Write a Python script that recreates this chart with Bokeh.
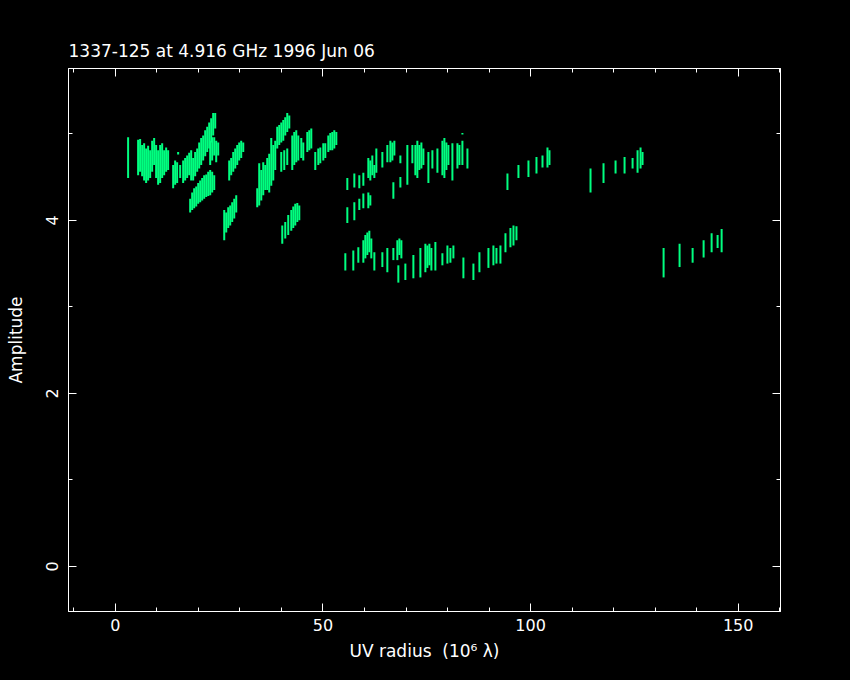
from bokeh.plotting import figure
from bokeh.models import Range1d, LinearAxis, FixedTicker, CustomLabelingPolicy
from bokeh.embed import file_html
from bokeh.resources import INLINE

# ---- data: each entry is one visibility streak (UV radius, amplitude low, amplitude high)
uv = [
    3.06, 5.47, 5.95, 6.44, 6.92, 7.40, 7.88, 8.37, 8.85, 9.33, 9.81, 10.29, 10.78, 11.26,
    11.74, 12.22, 12.70, 13.91, 14.39, 14.87, 15.11, 15.60, 16.32, 16.80, 17.28, 17.77, 18.25,
    18.73, 19.21, 19.70, 20.18, 20.66, 21.14, 21.63, 22.11, 22.59, 23.07, 23.55, 24.04,
    22.83, 23.31, 23.80, 24.28, 24.76,
    18.01, 18.49, 18.97, 19.46, 19.94, 20.42, 20.90, 21.38, 21.87, 22.35, 22.83, 23.31, 23.80,
    27.41, 27.89, 28.38, 28.86, 29.34, 29.82, 30.30, 30.79,
    26.21, 26.69, 27.17, 27.65, 28.13, 28.62, 29.10,
    34.16, 34.64, 35.13, 35.61, 36.09, 36.57, 37.05, 37.54, 38.02, 38.50,
    38.98, 39.46, 39.95, 40.43, 40.91, 41.39, 41.88,
    39.95, 40.67, 41.39, 42.60, 43.08, 43.56, 44.05, 44.77, 45.25, 46.22, 46.70, 47.18,
    48.14, 48.87, 49.35, 50.07, 50.55, 51.28, 51.76, 52.24, 52.72, 53.21,
    40.19, 40.91, 41.63, 42.36, 42.84, 43.32, 43.81, 44.29,
    55.86, 55.86, 57.55, 57.55, 58.75, 58.75, 59.72, 59.72, 60.92, 60.92, 61.40, 61.40,
    61.88, 62.37, 62.85, 64.30, 65.50, 66.23, 66.71, 67.19, 66.95, 68.64, 68.64, 70.32,
    71.53, 72.25, 72.73, 73.21, 73.70, 74.18, 75.39, 76.35, 77.56, 78.76, 79.24, 79.72,
    80.21, 81.17, 82.38, 82.86, 83.58, 83.58, 84.79,
    94.43, 97.08, 99.49, 101.42, 102.87, 104.07, 104.55,
    114.44, 117.57, 120.47, 122.64, 124.57, 125.77, 126.49, 126.97,
    55.38, 57.30, 58.51, 59.72, 60.20, 60.68, 61.16, 61.64, 62.37, 64.30, 65.50, 66.95,
    67.91, 68.40, 68.88, 68.15, 69.84, 71.77, 73.46, 74.66, 75.14, 75.63, 76.11, 77.07,
    78.76, 79.97, 80.69, 81.41, 83.82, 86.23, 87.68, 89.85, 91.05, 91.78, 92.74, 93.95,
    95.15, 95.88, 96.60,
    132.04, 135.89, 139.03, 141.68, 143.61, 145.05, 146.02,
]
amp_lo = [
    4.49, 4.52, 4.56, 4.51, 4.46, 4.43, 4.46, 4.49, 4.56, 4.64, 4.49, 4.41, 4.43, 4.49,
    4.52, 4.56, 4.58, 4.37, 4.41, 4.43, 4.76, 4.49, 4.43, 4.46, 4.49, 4.52, 4.46,
    4.46, 4.51, 4.56, 4.60, 4.64, 4.69, 4.74, 4.79, 4.83, 4.90, 4.98, 5.06,
    4.64, 4.69, 4.75, 4.67, 4.75,
    4.09, 4.12, 4.14, 4.16, 4.19, 4.21, 4.23, 4.25, 4.27, 4.28, 4.29, 4.32, 4.35,
    4.46, 4.52, 4.56, 4.60, 4.64, 4.69, 4.72, 4.79,
    3.77, 3.86, 3.91, 3.94, 3.98, 4.02, 4.09,
    4.15, 4.17, 4.23, 4.29, 4.35, 4.35, 4.32, 4.40, 4.46, 4.58,
    4.83, 4.87, 4.90, 4.92, 4.98, 5.02, 5.06,
    4.56, 4.58, 4.64, 4.58, 4.64, 4.67, 4.69, 4.72, 4.69, 4.79, 4.81, 4.83,
    4.58, 4.64, 4.66, 4.69, 4.72, 4.79, 4.81, 4.81, 4.83, 4.87,
    3.73, 3.79, 3.83, 3.88, 3.91, 3.94, 3.98, 4.00,
    4.35, 3.97, 4.38, 4.00, 4.37, 4.12, 4.40, 4.14, 4.49, 4.14, 4.46, 4.17,
    4.52, 4.49, 4.55, 4.61, 4.67, 4.67, 4.69, 4.75, 4.25, 4.66, 4.38, 4.41,
    4.66, 4.52, 4.49, 4.58, 4.60, 4.64, 4.43, 4.60, 4.55, 4.52, 4.49, 4.58,
    4.64, 4.46, 4.60, 4.64, 4.64, 4.99, 4.60,
    4.35, 4.49, 4.50, 4.54, 4.61, 4.61, 4.64,
    4.32, 4.43, 4.54, 4.54, 4.60, 4.55, 4.60, 4.64,
    3.42, 3.42, 3.51, 3.51, 3.56, 3.60, 3.63, 3.56, 3.42, 3.46, 3.40, 3.54,
    3.54, 3.60, 3.56, 3.28, 3.31, 3.33, 3.34, 3.40, 3.45, 3.48, 3.42, 3.42,
    3.48, 3.50, 3.51, 3.56, 3.33, 3.31, 3.40, 3.45, 3.48, 3.50, 3.50, 3.63,
    3.69, 3.71, 3.77,
    3.34, 3.46, 3.51, 3.57, 3.63, 3.68, 3.63,
]
amp_hi = [
    4.96, 4.93, 4.94, 4.87, 4.89, 4.83, 4.86, 4.81, 4.92, 4.95, 4.87, 4.81, 4.87, 4.89,
    4.81, 4.84, 4.81, 4.64, 4.69, 4.67, 4.79, 4.64, 4.69, 4.72, 4.75, 4.78, 4.81,
    4.72, 4.79, 4.83, 4.90, 4.95, 4.98, 5.04, 5.08, 5.13, 5.18, 5.24, 5.24,
    4.92, 4.96, 4.96, 4.92, 4.90,
    4.25, 4.32, 4.37, 4.39, 4.43, 4.46, 4.49, 4.52, 4.53, 4.56, 4.58, 4.56, 4.52,
    4.69, 4.72, 4.79, 4.83, 4.87, 4.90, 4.92, 4.90,
    4.12, 4.09, 4.15, 4.17, 4.21, 4.25, 4.29,
    4.37, 4.66, 4.58, 4.67, 4.64, 4.72, 4.77, 4.95, 4.87, 4.92,
    5.08, 5.10, 5.13, 5.16, 5.19, 5.24, 5.21,
    4.79, 4.81, 4.83, 4.98, 5.02, 5.04, 4.98, 4.95, 4.90, 5.02, 5.04, 5.06,
    4.79, 4.83, 4.84, 4.89, 4.89, 4.98, 5.01, 5.02, 5.04, 5.02,
    3.94, 3.98, 4.06, 4.12, 4.16, 4.19, 4.20, 4.17,
    4.49, 4.15, 4.54, 4.21, 4.52, 4.25, 4.55, 4.31, 4.72, 4.32, 4.69, 4.29,
    4.75, 4.64, 4.83, 4.79, 4.87, 4.92, 4.90, 4.92, 4.44, 4.75, 4.50, 4.87,
    4.87, 4.87, 4.92, 4.87, 4.90, 4.83, 4.79, 4.81, 4.83, 4.92, 4.95, 4.90,
    4.87, 4.89, 4.89, 4.87, 4.92, 5.01, 4.83,
    4.54, 4.64, 4.69, 4.73, 4.75, 4.84, 4.81,
    4.60, 4.66, 4.69, 4.73, 4.72, 4.81, 4.84, 4.79,
    3.62, 3.65, 3.69, 3.77, 3.83, 3.86, 3.88, 3.79, 3.63, 3.63, 3.68, 3.68,
    3.77, 3.79, 3.77, 3.48, 3.50, 3.60, 3.68, 3.73, 3.71, 3.73, 3.68, 3.75,
    3.62, 3.71, 3.68, 3.71, 3.57, 3.50, 3.63, 3.68, 3.71, 3.68, 3.71, 3.85,
    3.91, 3.94, 3.93,
    3.68, 3.73, 3.68, 3.77, 3.85, 3.83, 3.90,
]

x_major = [0, 50, 100, 150]
x_minor = [-10, 0, 10, 20, 30, 40, 50, 60, 70, 80, 90, 100, 110, 120, 130, 140, 150, 160]
y_major = [0, 2, 4]
y_minor = [0, 1, 2, 3, 4, 5]

title_text = "1337-125 at 4.916 GHz 1996 Jun 06"
x_label = "UV radius\u00a0\u00a0(10\u2076 \u03bb)"
y_label = "Amplitude"

FONT = "DejaVu Sans"
GREEN = "#00ff80"

p = figure(width=850, height=680, output_backend="svg", toolbar_location=None,
           x_range=Range1d(-11.3, 160.2), y_range=Range1d(-0.52, 5.754),
           min_border_left=68, min_border_right=70, min_border_top=68, min_border_bottom=69,
           background_fill_color="black", border_fill_color="black",
           outline_line_color="white", outline_line_width=1)
p.grid.visible = False

p.segment(x0=uv, y0=amp_lo, x1=uv, y1=amp_hi, line_color=GREEN, line_width=2)

no_labels = CustomLabelingPolicy(code="""
    for (const i of Array.from(indices)) { indices.unset(i) }
    return indices
""")


def style_axis(ax, show_labels):
    ax.axis_line_color = "white"
    ax.major_tick_line_color = "white"
    ax.minor_tick_line_color = "white"
    ax.major_tick_in = 8
    ax.major_tick_out = 0
    ax.minor_tick_in = 4
    ax.minor_tick_out = 0
    ax.major_label_text_color = "white"
    ax.major_label_text_font = FONT
    ax.major_label_text_font_size = "16px"
    ax.axis_label_text_color = "white"
    ax.axis_label_text_font = FONT
    ax.axis_label_text_font_size = "17px"
    ax.axis_label_text_font_style = "normal"
    if not show_labels:
        ax.major_label_policy = no_labels
        ax.major_label_standoff = 0
        ax.major_label_text_font_size = "4px"


xb = p.xaxis[0]
xb.ticker = FixedTicker(ticks=x_major, minor_ticks=x_minor)
style_axis(xb, True)
xb.major_label_standoff = 7
xb.axis_label = x_label
xb.axis_label_standoff = 7

yl = p.yaxis[0]
yl.ticker = FixedTicker(ticks=y_major, minor_ticks=y_minor)
style_axis(yl, True)
yl.major_label_orientation = "vertical"
yl.major_label_standoff = 10
yl.axis_label = y_label
yl.axis_label_standoff = 18

xt = LinearAxis(ticker=FixedTicker(ticks=x_major, minor_ticks=x_minor))
style_axis(xt, False)
p.add_layout(xt, "above")

yr = LinearAxis(ticker=FixedTicker(ticks=y_major, minor_ticks=y_minor))
style_axis(yr, False)
p.add_layout(yr, "right")

p.title.text = title_text
p.title.text_color = "white"
p.title.text_font = FONT
p.title.text_font_size = "17px"
p.title.text_font_style = "normal"
p.title.align = "left"
p.title.standoff = 4

html = file_html(p, INLINE, title="1337-125 radplot")
html = html.replace("</head>", "<style>html,body{background:#000;}</style></head>", 1)
open("out.html", "w").write(html)
